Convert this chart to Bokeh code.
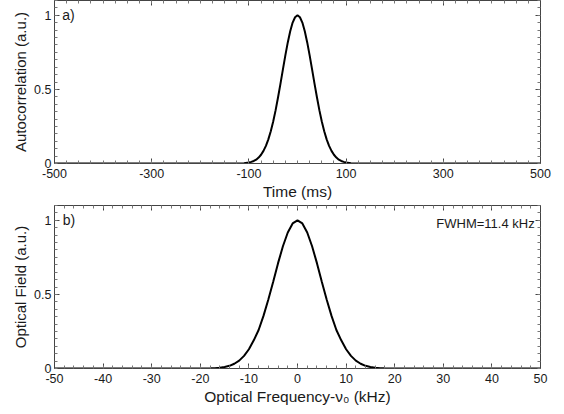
from bokeh.plotting import figure
from bokeh.layouts import column
from bokeh.models import LinearAxis, FixedTicker, Label
from bokeh.embed import file_html
from bokeh.resources import INLINE

# ---- data ----
# (a) autocorrelation vs time (ms)
time_ms = [-500, -150, -130, -120, -110, -100, -95, -90, -85, -80, -75, -70, -65, -60,
           -55, -50, -45, -40, -35, -30, -25, -20, -15, -10, -5, 0,
           5, 10, 15, 20, 25, 30, 35, 40, 45, 50, 55, 60, 65, 70, 75, 80, 85, 90,
           95, 100, 110, 120, 130, 150, 500]
autocorr = [0.0, 0.0, 0.0002, 0.0007, 0.0022, 0.0065, 0.011, 0.017, 0.026, 0.040, 0.059,
            0.085, 0.119, 0.163, 0.218, 0.284, 0.360, 0.447, 0.539, 0.635, 0.730, 0.817,
            0.893, 0.951, 0.987, 1.0,
            0.987, 0.951, 0.893, 0.817, 0.730, 0.635, 0.539, 0.447, 0.360, 0.284, 0.218,
            0.163, 0.119, 0.085, 0.059, 0.040, 0.026, 0.017, 0.011, 0.0065, 0.0022,
            0.0007, 0.0002, 0.0, 0.0]

# (b) optical field vs optical frequency offset (kHz)
freq_khz = [-50, -25, -20, -19, -18, -17, -16, -15, -14, -13, -12, -11, -10, -9, -8, -7,
            -6, -5, -4, -3, -2, -1, 0, 1, 2, 3, 4, 5, 6, 7, 8, 9, 10, 11, 12, 13, 14, 15,
            16, 17, 18, 19, 20, 25, 50]
field = [0.0, 0.0, 0.0002, 0.0004, 0.001, 0.0025, 0.005, 0.010, 0.018, 0.032, 0.053,
         0.085, 0.13, 0.19, 0.26, 0.355, 0.466, 0.586, 0.711, 0.825, 0.918, 0.979, 1.0,
         0.979, 0.918, 0.825, 0.711, 0.586, 0.466, 0.355, 0.26, 0.19, 0.13, 0.085, 0.053,
         0.032, 0.018, 0.010, 0.005, 0.0025, 0.001, 0.0004, 0.0002, 0.0, 0.0]

# ticks and tick labels
x1_major = [-500, -300, -100, 100, 300, 500]
x1_labels = ["-500", "-300", "-100", "100", "300", "500"]
x1_minor = list(range(-500, 501, 25))
x2_major = [-50, -40, -30, -20, -10, 0, 10, 20, 30, 40, 50]
x2_labels = ["-50", "-40", "-30", "-20", "-10", "0", "10", "20", "30", "40", "50"]
x2_minor = list(range(-50, 51, 2))
y_major = [0, 0.5, 1]
y_labels = ["0", "0.5", "1"]
y_minor = [round(0.05 * i, 2) for i in range(0, 23)]

FONT = "Liberation Sans"
TXT = "#1a1a1a"
AXC = "#444444"


def style_axis(ax, show_labels=True, label_size="15px"):
    ax.major_tick_in = 5
    ax.major_tick_out = 0
    ax.minor_tick_in = 3
    ax.minor_tick_out = 0
    ax.axis_line_color = AXC
    ax.major_tick_line_color = AXC
    ax.minor_tick_line_color = "#777777"
    ax.major_label_text_font = FONT
    ax.major_label_text_color = TXT
    ax.axis_label_text_font = FONT
    ax.axis_label_text_color = TXT
    ax.axis_label_text_font_style = "normal"
    if show_labels:
        ax.major_label_text_font_size = "12.5px"
        ax.axis_label_text_font_size = label_size
        ax.axis_label_standoff = 2
    else:
        ax.major_label_text_font_size = "0px"
        ax.major_label_standoff = 0


def make_panel(xs, ys, xr, xmaj, xlab, xmin, xlabel, ylabel, height, top, bottom):
    p = figure(width=556, height=height, x_range=xr, y_range=(0, 1.1),
               output_backend="svg", toolbar_location=None,
               min_border_left=54, min_border_right=16,
               min_border_top=top, min_border_bottom=bottom,
               background_fill_color="white", border_fill_color="white")
    p.grid.visible = False
    p.outline_line_color = AXC
    p.outline_line_width = 1
    p.xaxis.ticker = FixedTicker(ticks=xmaj, minor_ticks=xmin)
    p.yaxis.ticker = FixedTicker(ticks=y_major, minor_ticks=y_minor)
    p.xaxis.axis_label = xlabel
    p.yaxis.axis_label = ylabel
    p.xaxis.major_label_overrides = dict(zip(xmaj, xlab))
    p.yaxis.major_label_overrides = dict(zip(y_major, y_labels))
    for ax in p.xaxis:
        style_axis(ax, label_size="15.5px")
        ax.major_label_standoff = 5
    for ax in p.yaxis:
        style_axis(ax, label_size="15px")
        ax.major_label_standoff = 3
    top_ax = LinearAxis(ticker=FixedTicker(ticks=xmaj, minor_ticks=xmin))
    right_ax = LinearAxis(ticker=FixedTicker(ticks=y_major, minor_ticks=y_minor))
    style_axis(top_ax, show_labels=False)
    style_axis(right_ax, show_labels=False)
    top_ax.major_label_overrides = {v: "" for v in xmaj}
    right_ax.major_label_overrides = {v: "" for v in y_major}
    p.add_layout(top_ax, "above")
    p.add_layout(right_ax, "right")
    p.line(xs, ys, line_color="black", line_width=2)
    return p


p1 = make_panel(time_ms, autocorr, (-500, 500), x1_major, x1_labels, x1_minor,
                "Time (ms)", "Autocorrelation (a.u.)", 202, 0, 39)
p1.add_layout(Label(x=-484, y=1.0, text="a)", text_font=FONT, text_font_size="14px",
                    text_color=TXT, text_baseline="middle"))

p2 = make_panel(freq_khz, field, (-50, 50), x2_major, x2_labels, x2_minor,
                "Optical Frequency-ν₀ (kHz)", "Optical Field (a.u.)", 212, 3, 46)
p2.add_layout(Label(x=-48.3, y=1.0, text="b)", text_font=FONT, text_font_size="14px",
                    text_color=TXT, text_baseline="middle"))
p2.add_layout(Label(x=48.8, y=0.98, text="FWHM=11.4 kHz", text_font=FONT,
                    text_font_size="13px", text_color=TXT, text_align="right",
                    text_baseline="middle"))

layout = column(p1, p2, spacing=0)
open("out.html", "w").write(file_html(layout, INLINE))
